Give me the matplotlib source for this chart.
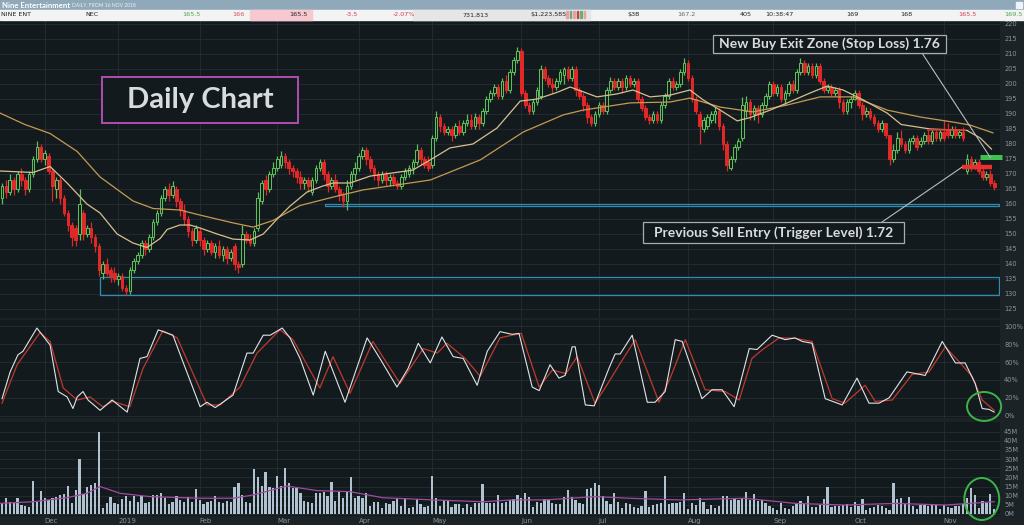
import matplotlib
matplotlib.use("Agg")
import matplotlib.pyplot as plt
from matplotlib.patches import Rectangle, Ellipse
import numpy as np

# ---------------- data ----------------
opens = [162,166,164,168,165,170,168,165,170,175,179,175,176,171,165,168,162,157,153,152,
         150,157,150,152,149,146,137,140,138,137,135,136,132,131,138,141,143,147,145,149,
         154,157,162,165,163,165,161,158,155,151,148,151,148,145,147,144,146,143,145,142,
         146,140,140,150,148,147,152,161,168,165,170,172,173,176,174,172,171,169,167,168,
         164,168,172,174,170,166,168,165,163,161,166,170,172,176,178,175,172,170,168,170,
         168,169,167,166,169,170,172,174,178,175,174,173,182,189,186,184,185,183,186,184,
         187,188,186,189,187,191,195,197,199,196,201,198,204,208,211,197,193,191,194,196,
         205,202,200,199,201,203,205,202,205,198,196,193,189,187,190,193,191,198,201,199,
         201,199,202,200,201,195,192,189,188,190,188,193,196,201,199,200,204,207,202,195,
         190,185,186,188,190,191,186,180,172,175,179,182,191,194,190,192,190,193,196,200,
         197,199,195,197,200,198,204,207,204,206,203,206,201,198,199,197,198,194,191,194,
         195,197,193,190,191,189,187,185,187,183,175,178,182,180,178,181,182,180,181,183,
         181,184,182,184,185,183,185,183,184,171,175,172,174,171,169,170,167]
highs = [167,168,170,169,171,172,169,171,176,181,180,178,177,172,169,169,163,158,154,153,
         165,158,153,154,150,147,141,142,139,139,137,137,133,139,142,144,148,148,150,155,
         158,163,166,167,167.5,166,162,160,156,152,153,152,149,148,148,147,148,146,146,145,
         147,141,153,151,150,152,164,168,169.5,171,174,176,177.5,177,175,173,172,171,169,169,
         169,173,175,175,171,169,170,166,164,168,171,174,177,179,179,176,173,171,171,171,
         170,170,168,170,172,173,175,180,179,176,176,183,191,190,187,186,186,187,188,188,
         190,190,190.3,190,192,196,198,200,200,202,203,205,209,212.3,212,198,194,195,199,206.3,
         206,203,202,202,205,205.5,206,206,206,199,197,194,190,191,194,194,199,202.3,202,202,
         202,203,203,202,202,196,193,190,191,191,194,197,202,202.3,201,205,208.7,208,203,196,
         191,189,190,191,192.3,192,187,181,176,180,182,195.7,196,195,193,193,194,197,201,201,
         200,200,198,201,201.3,205,208.7,208,207,207,207,207,202,200,200,199,199,195,195,196,
         198,198,194,192.3,192,190,188,188,186,183,180,184,184.7,181,182,183,183,182.3,184,184.7,
         185,185,185,188,187,186,186,185,185.5,176.5,176,175,175,172.3,171,171.3,168]
lows = [160,162,163,163,164,166,163,164,169,174,174,173,170,161,162,160,156,151,146,146,
        148,148,149,147,144,136,135,136,134,134,133,131,129.8,130,137,140,142,143,144,148,
        153,156,161,161,162,159,156,153,149,146,147,146,143,144,143,142,142,141,140,141,
        138,137,139,147,146,146,151,160,163,164,169,171,172,172,170,169,167,165,165,164,
        163,167,171,168,164,165,164,161,159,158,165,168,171,175,173,170.5,168,166,167,166,
        166,166,165,165,168,169,170,173,173,172,171,172,181,184,183,183,181,182,183,183,
        186,185,185,185,186,190,194,196,195,195,197,197,203,207,196,192,190,190,193,195,
        201,199,197,198,200,200,201,201,196,195,191,187,186,186,189,190,190,197,198,198,
        197,198,199,199,194,191,188,186.5,187,187,187,192,195,198,198,199,203,201,194,190,
        180,184,185,187,187,184.7,178,171,171.3,174,178,181,189,188,188,187,189,192,195,196,
        196,194,193,196,197,197,203,203,203,202,202,200,197,197,196,196,192,190,190,192,
        194.7,192,188,189,188,186,184,184,182,173,174,177,179,177,177,180,178,179,180,180,
        180,181,181,181,182,182,182,182,181,170,171,171.5,170,168,168,166,164.7]
closes = [166,164,168,165,170,168,165,170,175,179,175,177,171,166,168,162,157,153,149,148,
          160,150,152,149,146,138,140,137,136,135,136,132,131,138,141,143,147,145,149,154,
          157,162,165,163,166,161,158,155,151,148,152,148,145,147,144,146,143,145,142,144,
          140,139,150,148,147,151,162,167,165,170,172,175,176,174,172,171,169,167,168,166,
          168,172,174,170,166,168,165,163,161,166,170,172,176,178,175,172,170,168,170,168,
          169,167,166,169,171,172,174,178,175,173,172,182,189,186,184,185,183,186,184,187,
          188,186,189,187,191,195,197,199,196,201,198,204,208,211,197,193,191,194,198,205,
          202,200,199,201,204,205,202,205,198,196,193,189,187,190,193,191,198,201,199,201,
          199,202,200,201,195,192,189,188,190,188,193,196,201,199,200,204,207,202,195,191,
          186,188,189,190,191,186,180,173,175,179,181,193,194,190,192,190,193,196,200,197,
          199,195,197,200,198,204,207,204,206,203,206,201,198,199,197,198,194,191,194,195,
          197,193,190,191,189,187,185,187,183,175,178,182,180,178,181,182,179,181,183,181,
          184,182,184,182,183,185,183,184,182,175,172,174,171,169,170,167,165.5]
volume_m = [5.8,9.0,6.7,5.8,9.0,4.9,4.6,4.0,18.0,6.7,12.6,8.6,7.7,8.9,9.5,10.4,10.9,15.3,5.8,13.1,
            29.9,10.7,14.6,15.8,17.1,44.6,3.5,5.8,9.5,5.8,5.3,8.2,9.8,7.1,9.8,6.7,9.8,6.2,6.4,10.4,
            10.4,11.7,8.9,5.3,6.7,9.8,7.7,6.7,9.5,6.7,13.5,7.7,5.3,6.7,7.1,10.0,6.7,5.8,7.3,6.7,
            14.6,17.1,10.4,6.4,5.8,24.6,20.0,15.3,23.1,14.6,14.0,20.8,15.3,25.3,17.1,14.0,14.4,11.7,7.3,6.4,
            5.8,11.7,11.7,12.2,9.8,17.7,7.3,12.2,8.9,12.4,20.4,8.6,10.0,8.9,11.3,4.6,6.7,6.4,3.5,6.2,
            5.3,7.1,8.9,4.6,8.9,3.5,3.6,8.2,5.3,4.0,4.6,20.6,8.9,4.4,7.7,7.7,4.0,5.5,5.5,3.1,
            5.3,4.0,6.2,5.8,16.4,6.2,5.8,6.2,10.2,5.8,6.7,7.5,
            8.0,10.4,8.9,11.7,9.1,4.0,6.7,5.8,8.0,8.0,5.8,5.5,5.3,9.5,13.1,9.1,7.7,6.2,5.5,13.7,
            14.4,17.1,15.8,9.8,7.1,5.3,11.3,6.4,3.5,6.2,5.3,4.0,3.5,4.6,12.6,4.0,4.9,5.3,5.8,20.9,
            5.3,5.8,6.2,6.7,11.3,2.6,5.8,4.9,8.6,6.7,2.6,4.9,3.1,4.4,9.8,9.8,7.7,8.0,7.7,8.6,
            12.2,7.7,10.9,7.1,7.7,5.8,4.6,3.1,2.2,6.2,3.1,2.6,4.6,6.2,7.1,5.6,9.8,4.0,3.6,4.9,
            8.0,14.6,3.6,4.4,4.6,4.9,5.3,4.0,6.7,4.4,8.0,2.2,3.1,4.0,4.9,4.6,3.1,2.2,17.1,8.0,
            8.6,5.3,9.1,4.4,2.6,4.9,4.9,4.6,4.9,4.9,2.6,4.9,4.0,3.5,4.4,4.4,5.3,8.6,14.4,10.4,
            3.5,7.1,6.2,10.7,2.7]

# moving averages (read at turning points, trading-day index)
ma20_idx = [-0.5,8,12.4,16.8,21.9,25.3,29.7,33.8,37.4,40.8,42.6,45.9,48.5,51.1,55.5,59.6,64,67.4,71,74.3,
            78.7,82.8,85.4,89.8,95,106,110.5,115.6,121.5,127.7,133.7,138.1,143.2,146.6,153.5,158.7,162.8,167.2,172.4,177.5,
            180.9,185.3,189.7,193,198.2,202.6,208.5,212.9,217,222.2,228.4,232,239.5,249,252.4,255.3]
ma20_val = [171,170.5,172.5,167,160,157,150,147,145.5,148.5,151.5,153,153,152,150,148.3,148,150,155,159.3,
            164,166,167,167,169.3,171.3,174.7,178.7,180,185.3,194.3,195,197.2,199,195.7,196.7,198,195.7,196.3,198,
            194.7,191.3,187.7,188.8,191.3,193.7,197,199.3,198,194.7,190.3,186.5,185,184.5,182,178.3]
ma50_idx = [-0.5,5.9,12.4,19.4,25.3,33.8,39,45.9,51.1,59.6,64.8,69.9,76.9,85.4,93.2,110.5,123.4,134.5,144.8,149.9,
            162.1,172.4,177.5,185.3,193.8,202.6,211.1,219.6,228.4,236.9,245.4,249.8,255.7]
ma50_val = [190.3,186.5,183.5,177.5,169,161,158.5,158,156.3,153.7,152.3,154.5,159.5,162.3,164.7,168,174.7,184,189.7,191.3,
            193.7,194,195.3,192.3,190.7,193,195.7,195.7,191.3,189,187.3,186.3,183.7]
volma_idx = [-0.5,8,16.8,21.9,25.3,30.5,38.2,51.1,59.6,64.8,73.5,81.3,89.8,98.3,111.2,124.1,131.6,140.1,153,161.8,
             174.7,191.7,204.6,217.5,230.5,243.4,256]
volma_val = [5.8,6.7,8.9,11.3,15,11.3,9.5,8.6,8.6,10.4,15.3,12.8,12.2,8.9,7.7,6.7,7.7,7.7,9.5,8.6,
             7.7,8.6,5.8,4.9,5.8,4.9,6.7]

# slow stochastic %K and %D (turning points)
stk_idx = [0,2.1,4.1,5.4,9.0,12.4,14.5,16.8,18.3,19.4,20.9,22.2,25.3,28.4,32.3,35.6,37.4,40.3,44.1,46.7,
           51.1,52.9,55,59.6,63.2,64.8,67.4,69.2,72.3,74.3,76.9,80.3,83.4,88.5,94.2,97.5,101.9,104.8,107.4,110.5,
           113.5,116.4,119,122.6,125.2,128.5,131.6,133.4,136.8,138.6,141.4,143.7,145.3,147.1,147.9,150.5,152.8,156.6,158.2,159.5,
           162.6,166.5,168.5,171.1,173.7,175.5,180.6,183.2,185.8,188.9,192.8,194.8,198.7,202.1,204.6,206.5,209,212.4,216.8,220.6,
           223.7,226.3,228.9,233.5,238.2,242.6,246,248.5,251.1,252.9,254.7,256]
stk_val = [19,49,68,72,98,79,27,21,8,21,27,17.5,6,17.5,4,64,66,96,90,60,
           10,15,9,23,70,70,90,90,98,87,64,23,72,15,87,64,32,53,81,59,
           88,66,64,34,72,94,91,92,32,28,57,42,45,77,77,12,11,53,69,69,
           90,15,15,27,85,83,19,29,29,10,75,74,90,85,87,83,81,19,12,42,
           14,14,20,49,45,83,59,59,36,8,7,4]
std_idx = [0,3.9,9.8,12.4,15.8,19.4,22.7,26,28.6,33,36.4,41.5,45.2,52.9,56.3,61.4,65.8,71.7,75.1,82,
           85.4,89.8,95.7,102.7,108.7,112.3,114.8,119.5,123.4,128.5,131.6,134,138.6,142,145.5,148.4,153,155.6,160,163.4,
           169.5,172.4,176.3,181.4,186.6,190.2,193.5,196.1,200.5,204.6,209,214.2,217.5,222.7,225.3,229.7,234.8,239.2,243.4,247,
           250.3,252.9,256]
std_val = [14,57,93,83,31,17.5,21,10,16,10,53,95,87,12,12,32,70,96,85,31,
           66,25,83,36,75,70,81,64,44,87,90,92,32,51,47,66,14,31,62,85,
           15,42,85,29,27,17.5,64,73.5,87,86.5,83,19,14,34,16,17.5,46,49,77,60,
           44,17.5,6]

month_ticks = [11, 30, 51, 71, 92, 111, 134, 154, 177, 199, 220, 243]
month_labels = ["Dec", "2019", "Feb", "Mar", "Apr", "May", "Jun", "Jul", "Aug", "Sep", "Oct", "Nov"]
price_ticks = list(range(125, 221, 5))
stoch_ticks = [0, 20, 40, 60, 80, 100]
vol_ticks = list(range(0, 46, 5))

stop_level = 175.5            # New Buy Exit Zone 1.76
stop_span = (252.4, 258.1)
trigger_level = 172.3         # Previous Sell Entry 1.72
trigger_span = (247.7, 255.5)
resist_level = 184.5
resist_span = (238.7, 248.6)
support_zone = (83.4, 159.4, 160.1)   # start, low, high
lower_zone = (25.3, 129.6, 135.8)

header_items = [("NINE ENT", 1, "#222222"), ("NEC", 85, "#222222"), ("165.5", 182, "#4aa84a"),
                ("166", 232, "#d05060"), ("165.5", 289, "#222222"), ("-3.5", 346, "#d04050"),
                ("-2.07%", 393, "#d04050"), ("731,813", 462, "#222222"), ("$1,223,585", 530, "#222222"),
                ("$3B", 627, "#222222"), ("167.2", 677, "#666666"), ("405", 740, "#222222"),
                ("10:38:47", 765, "#222222"), ("169", 846, "#222222"), ("168", 900, "#222222"),
                ("165.5", 958, "#d04050"), ("169.5", 1004, "#4aa84a")]

# ---------------- style ----------------
W, H = 1024, 525
BG = "#131a1d"
FIGBG = "#1b2327"
GRID = "#252e33"
TXT = "#8a959a"
UP = "#5cbf5c"
DN = "#e02828"
ZONE = "#2f8db5"

fig = plt.figure(figsize=(W / 100, H / 100), dpi=100)
fig.patch.set_facecolor(FIGBG)

def fx(px):
    return px / W

def fy(py_top):
    return 1 - py_top / H

# header
fig.patches.append(Rectangle((0, fy(10)), 1, 10 / H, transform=fig.transFigure, color="#8fa9ba", zorder=0))
fig.patches.append(Rectangle((0, fy(19.5)), 1, 9.5 / H, transform=fig.transFigure, color="#f3f3f3", zorder=0))
fig.patches.append(Rectangle((fx(250), fy(19.5)), fx(62), 9.5 / H, transform=fig.transFigure, color="#f7c8cf", zorder=0))
fig.patches.append(Rectangle((fx(413), fy(19.5)), fx(177), 9.5 / H, transform=fig.transFigure, color="#e6e6e6", zorder=0))
fig.patches.append(Rectangle((fx(1016), fy(8)), fx(6), 6 / H, transform=fig.transFigure, color="#f0f4f8", zorder=1))
for k, col in enumerate(["#e8a0a8", "#6ab06a", "#e8a0a8", "#c04050", "#6ab06a", "#e8a0a8"]):
    fig.patches.append(Rectangle((fx(566 + k * 3.5), fy(18)), fx(1.6), 7 / H, transform=fig.transFigure, color=col, zorder=1))
fig.text(fx(2), fy(5), "Nine Entertainment", color="white", fontsize=5.6, fontweight="bold",
         family=["Lato", "DejaVu Sans"], va="center", ha="left")
fig.text(fx(72), fy(5.2), "DAILY, FROM 16 NOV 2018", color="#eef2f5", fontsize=3.6,
         family=["Lato", "DejaVu Sans"], va="center", ha="left")
for t, xp, col in header_items:
    fig.text(fx(xp), fy(14.8), t, color=col, fontsize=4.6, va="center", ha="left")

ax_p = fig.add_axes([0, fy(318), fx(1000), 298 / H])
ax_s = fig.add_axes([0, fy(418), fx(1000), 98 / H])
ax_v = fig.add_axes([0, fy(516), fx(1000), 94 / H])

idx = np.arange(len(closes))
xlim = (-0.52, 257.5)
for ax in (ax_p, ax_s, ax_v):
    ax.set_facecolor(BG)
    for s in ax.spines.values():
        s.set_visible(False)
    ax.set_xlim(*xlim)
    ax.set_xticks(month_ticks)
    ax.yaxis.tick_right()
    ax.tick_params(axis="y", length=0, pad=3, labelsize=4.8, labelcolor=TXT)
    ax.tick_params(axis="x", length=0)
    ax.grid(True, color=GRID, lw=0.6)
    ax.set_axisbelow(True)

ax_p.set_xticklabels([])
ax_s.set_xticklabels([])
ax_v.set_xticklabels(month_labels)
ax_v.tick_params(axis="x", pad=1.2, labelsize=5, labelcolor=TXT)
for lbl in ax_v.get_xticklabels():
    lbl.set_ha("left")

# price panel
ax_p.set_ylim(122, 221.33)
ax_p.set_yticks(price_ticks)
ax_p.set_yticklabels([str(v) for v in price_ticks])

o = np.array(opens, float); c = np.array(closes, float)
hi = np.array(highs, float); lo = np.array(lows, float)
up = c >= o
cols = np.where(up, UP, DN)
ax_p.vlines(idx, lo, hi, colors=cols, lw=0.9, zorder=3)
body_lo = np.minimum(o, c)
body_h = np.maximum(np.abs(c - o), 0.35)
ax_p.bar(idx, body_h, bottom=body_lo, width=0.68,
         color=np.where(up, BG, DN), edgecolor=cols, linewidth=0.75, zorder=4)

ax_p.plot(ma50_idx, ma50_val, color="#c49a52", lw=0.9, zorder=5)
ax_p.plot(ma20_idx, ma20_val, color="#d6c08e", lw=0.9, zorder=5)

ax_p.add_patch(Rectangle((support_zone[0], support_zone[1]), xlim[1] - 0.25 - support_zone[0],
                         support_zone[2] - support_zone[1], fill=False, edgecolor=ZONE, lw=0.9, zorder=2))
ax_p.add_patch(Rectangle((lower_zone[0], lower_zone[1]), xlim[1] - 0.25 - lower_zone[0],
                         lower_zone[2] - lower_zone[1], fill=False, edgecolor=ZONE, lw=0.9, zorder=2))

ax_p.hlines(resist_level, *resist_span, color=DN, lw=1.1, zorder=6)
ax_p.hlines(trigger_level, *trigger_span, color="#ec3030", lw=3.2, zorder=6)
ax_p.hlines(stop_level, *stop_span, color="#3fc04f", lw=3.6, zorder=6, clip_on=False)

LINE = "#b8bcbe"
ax_p.annotate("", xy=(255.0, stop_level), xycoords="data",
              xytext=(922, H - 53), textcoords="figure pixels",
              arrowprops=dict(arrowstyle="-", color=LINE, lw=0.8, shrinkA=0, shrinkB=0), zorder=7)
ax_p.annotate("", xy=(trigger_span[0], trigger_level), xycoords="data",
              xytext=(882, H - 222), textcoords="figure pixels",
              arrowprops=dict(arrowstyle="-", color=LINE, lw=0.8, shrinkA=0, shrinkB=0), zorder=7)

def label_box(x0, y0, x1, y1, text, size, edge, lw):
    fig.patches.append(Rectangle((fx(x0), fy(y1)), fx(x1 - x0), (y1 - y0) / H, transform=fig.transFigure,
                                 facecolor=BG, edgecolor=edge, lw=lw, zorder=8))
    fig.text(fx((x0 + x1) / 2), fy((y0 + y1) / 2), text, color="#d9dcdd", fontsize=size,
             fontweight="bold", family=["Lato", "DejaVu Sans"], ha="center", va="center", zorder=9)

label_box(102, 77, 298, 123, "Daily Chart", 21, "#b04db0", 1.4)
label_box(713, 35, 946, 53, "New Buy Exit Zone (Stop Loss) 1.76", 10, "#a8acae", 0.9)
label_box(643, 222, 904, 243, "Previous Sell Entry (Trigger Level) 1.72", 10, "#a8acae", 0.9)

# stochastic panel
ax_s.set_ylim(-2.6, 107)
ax_s.set_yticks(stoch_ticks)
ax_s.set_yticklabels([f"{v}%" for v in stoch_ticks])
ax_s.plot(std_idx, std_val, color="#c0392e", lw=0.9, zorder=3, solid_joinstyle="round")
ax_s.plot(stk_idx, stk_val, color="#dfe4e6", lw=0.8, zorder=4, solid_joinstyle="round")
ax_s.add_patch(Ellipse((253.4, 10.3), 8.8, 32.4, fill=False, edgecolor="#3cb44a", lw=1.4, clip_on=False, zorder=6))

# volume panel
ax_v.set_ylim(-1.1, 50.3)
ax_v.set_yticks(vol_ticks)
ax_v.set_yticklabels([f"{v}M" for v in vol_ticks])
ax_v.bar(idx, volume_m, width=0.58, color="#b0c2cf", zorder=3)
ax_v.plot(volma_idx, volma_val, color="#a04aa0", lw=0.9, zorder=4)
ax_v.add_patch(Ellipse((252.8, 8.2), 9.0, 23.0, fill=False, edgecolor="#3cb44a", lw=1.4, clip_on=False, zorder=6))

fig.savefig("out.png", dpi=100, facecolor=fig.get_facecolor())
